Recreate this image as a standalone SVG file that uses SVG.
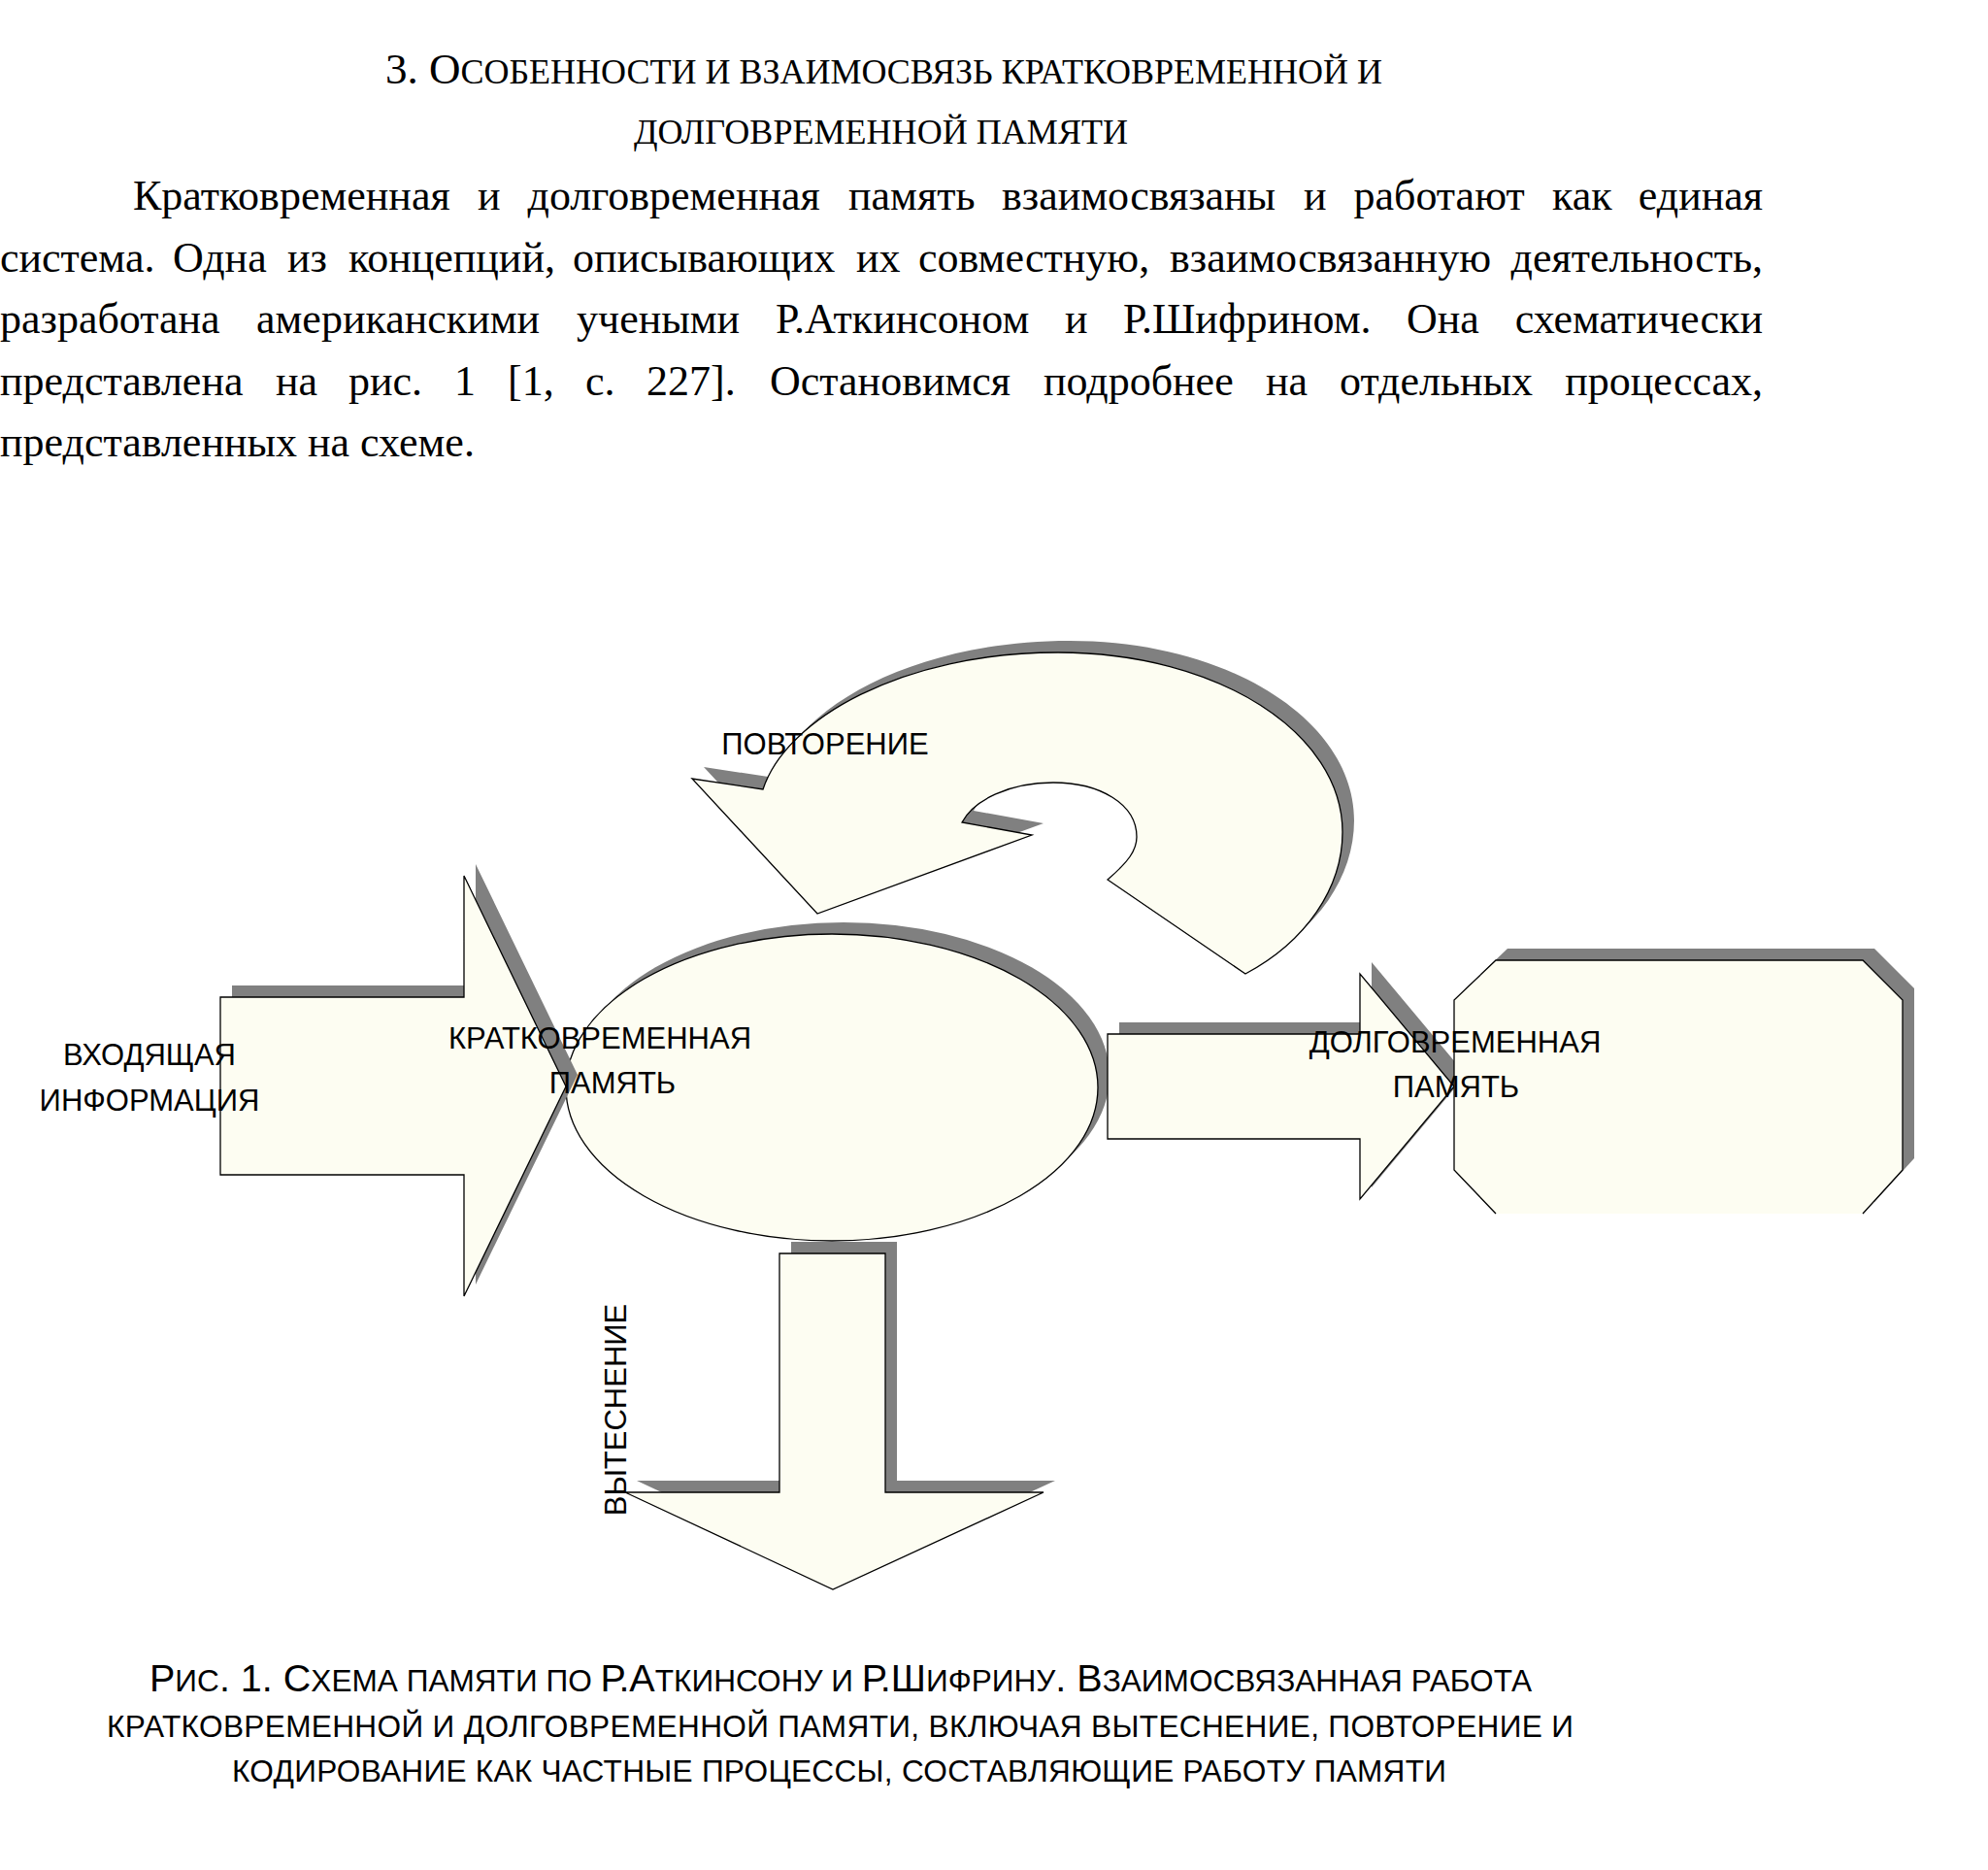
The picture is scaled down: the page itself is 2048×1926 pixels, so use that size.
<svg xmlns="http://www.w3.org/2000/svg" width="2048" height="1926" viewBox="0 0 2048 1926">
<style>
.serif{font-family:"Liberation Serif","Times New Roman",serif;fill:#000}
.sans{font-family:"Liberation Sans",Arial,sans-serif;fill:#000}
.body{font-size:44px}
.lbl{font-size:31px}
.shape{fill:#fdfdf2;stroke:#000;stroke-width:1.3;stroke-linejoin:miter}
.fillonly{fill:#fdfdf2;stroke:none}
.edge{fill:none;stroke:#000;stroke-width:1.3}
.shadow{fill:#808080;stroke:none}
</style>
<rect width="2048" height="1926" fill="#fff"/>

<g id="title">
<text class="serif" x="397" y="86" font-size="45" textLength="1027" lengthAdjust="spacing">3. О<tspan font-size="36">СОБЕННОСТИ И ВЗАИМОСВЯЗЬ КРАТКОВРЕМЕННОЙ И</tspan></text>
<text class="serif" x="653" y="148" font-size="36" textLength="509" lengthAdjust="spacing">ДОЛГОВРЕМЕННОЙ ПАМЯТИ</text>
</g>

<g id="paragraph" class="serif body">
<text y="216"><tspan x="137">Кратковременная</tspan><tspan x="492">и</tspan><tspan x="543.5">долговременная</tspan><tspan x="874">память</tspan><tspan x="1032">взаимосвязаны</tspan><tspan x="1343">и</tspan><tspan x="1394.5">работают</tspan><tspan x="1599">как</tspan></text>
<text y="216" x="1816" text-anchor="end">единая</text>
<text y="280"><tspan x="0">система.</tspan><tspan x="178">Одна</tspan><tspan x="296">из</tspan><tspan x="359">концепций,</tspan><tspan x="590">описывающих</tspan><tspan x="882">их</tspan><tspan x="946">совместную,</tspan><tspan x="1205">взаимосвязанную</tspan></text>
<text y="280" x="1816" text-anchor="end">деятельность,</text>
<text y="343"><tspan x="0">разработана</tspan><tspan x="264">американскими</tspan><tspan x="594">учеными</tspan><tspan x="799">Р.Аткинсоном</tspan><tspan x="1097">и</tspan><tspan x="1157">Р.Шифрином.</tspan><tspan x="1449">Она</tspan></text>
<text y="343" x="1816" text-anchor="end">схематически</text>
<text y="407"><tspan x="0">представлена</tspan><tspan x="284">на</tspan><tspan x="359">рис.</tspan><tspan x="468">1</tspan><tspan x="523">[1,</tspan><tspan x="603">с.</tspan><tspan x="666">227].</tspan><tspan x="793">Остановимся</tspan><tspan x="1075">подробнее</tspan><tspan x="1304">на</tspan><tspan x="1380">отдельных</tspan></text>
<text y="407" x="1816" text-anchor="end">процессах,</text>
<text y="470" x="0">представленных на схеме.</text>
</g>

<g id="node-stm">
<ellipse class="shadow" cx="869" cy="1108" rx="274" ry="158"/>
<ellipse class="shape" cx="857" cy="1120" rx="274" ry="158"/>
</g>

<g id="connectors">
<g id="arrow-input">
<path class="shadow" transform="translate(12,-12)" d="M227,1027 H478 V902 L583,1119 L478,1335 V1210 H227 Z"/>
<path class="shape" d="M227,1027 H478 V902 L583,1119 L478,1335 V1210 H227 Z"/>
</g>
<g id="arrow-rehearsal">
<path class="shadow" transform="translate(12,-12)" d="M786,813 C810,740 930,672 1090,672 C1255,672 1383,755 1383,857 C1383,915 1345,970 1283,1003 L1141,906 C1162,888 1171,876 1171,862 C1171,828 1133,806 1085,806 C1040,806 1003,824 991,847 L1063,860 L842,941 L713,802 Z"/>
<path class="shape" d="M786,813 C810,740 930,672 1090,672 C1255,672 1383,755 1383,857 C1383,915 1345,970 1283,1003 L1141,906 C1162,888 1171,876 1171,862 C1171,828 1133,806 1085,806 C1040,806 1003,824 991,847 L1063,860 L842,941 L713,802 Z"/>
</g>
<g id="arrow-encoding">
<path class="shadow" transform="translate(12,-12)" d="M1141,1065 H1401 V1003 L1498,1119 L1401,1235 V1173 H1141 Z"/>
<path class="shape" d="M1141,1065 H1401 V1003 L1498,1119 L1401,1235 V1173 H1141 Z"/>
</g>
<g id="arrow-displacement">
<path class="shadow" transform="translate(12,-12)" d="M803,1291 H912 V1537 H1075 L858,1637 L644,1537 H803 Z"/>
<path class="shape" d="M803,1291 H912 V1537 H1075 L858,1637 L644,1537 H803 Z"/>
</g>
</g>

<g id="node-ltm">
<path class="shadow" transform="translate(12,-12)" d="M1541,989 H1919 L1960,1030 V1205 L1919,1250 H1541 L1498,1205 V1030 Z"/>
<path class="fillonly" d="M1541,989 H1919 L1960,1030 V1205 L1919,1250 H1541 L1498,1205 V1030 Z"/>
<path class="edge" d="M1541,1250 L1498,1205 V1030 L1541,989 H1919 L1960,1030 V1205 L1919,1250"/>
</g>

<g id="labels" class="sans lbl" text-anchor="middle">
<text x="154" y="1097">ВХОДЯЩАЯ</text>
<text x="154" y="1144">ИНФОРМАЦИЯ</text>
<text x="618" y="1080">КРАТКОВРЕМЕННАЯ</text>
<text x="631" y="1126">ПАМЯТЬ</text>
<text x="1499" y="1084">ДОЛГОВРЕМЕННАЯ</text>
<text x="1500" y="1130">ПАМЯТЬ</text>
<text x="850" y="777">ПОВТОРЕНИЕ</text>
<text transform="translate(645,1452) rotate(-90)">ВЫТЕСНЕНИЕ</text>
</g>

<g id="caption" class="sans">
<text x="154" y="1742" font-size="39.5" textLength="1424" lengthAdjust="spacing">Р<tspan font-size="31.6">ИС</tspan>. 1. С<tspan font-size="31.6">ХЕМА ПАМЯТИ ПО </tspan>Р.А<tspan font-size="31.6">ТКИНСОНУ И </tspan>Р.Ш<tspan font-size="31.6">ИФРИНУ</tspan>. В<tspan font-size="31.6">ЗАИМОСВЯЗАННАЯ РАБОТА</tspan></text>
<text x="110" y="1789" font-size="31.6" textLength="1511" lengthAdjust="spacing">КРАТКОВРЕМЕННОЙ И ДОЛГОВРЕМЕННОЙ ПАМЯТИ, ВКЛЮЧАЯ ВЫТЕСНЕНИЕ, ПОВТОРЕНИЕ И</text>
<text x="239" y="1835" font-size="31.6" textLength="1251" lengthAdjust="spacing">КОДИРОВАНИЕ КАК ЧАСТНЫЕ ПРОЦЕССЫ, СОСТАВЛЯЮЩИЕ РАБОТУ ПАМЯТИ</text>
</g>
</svg>
